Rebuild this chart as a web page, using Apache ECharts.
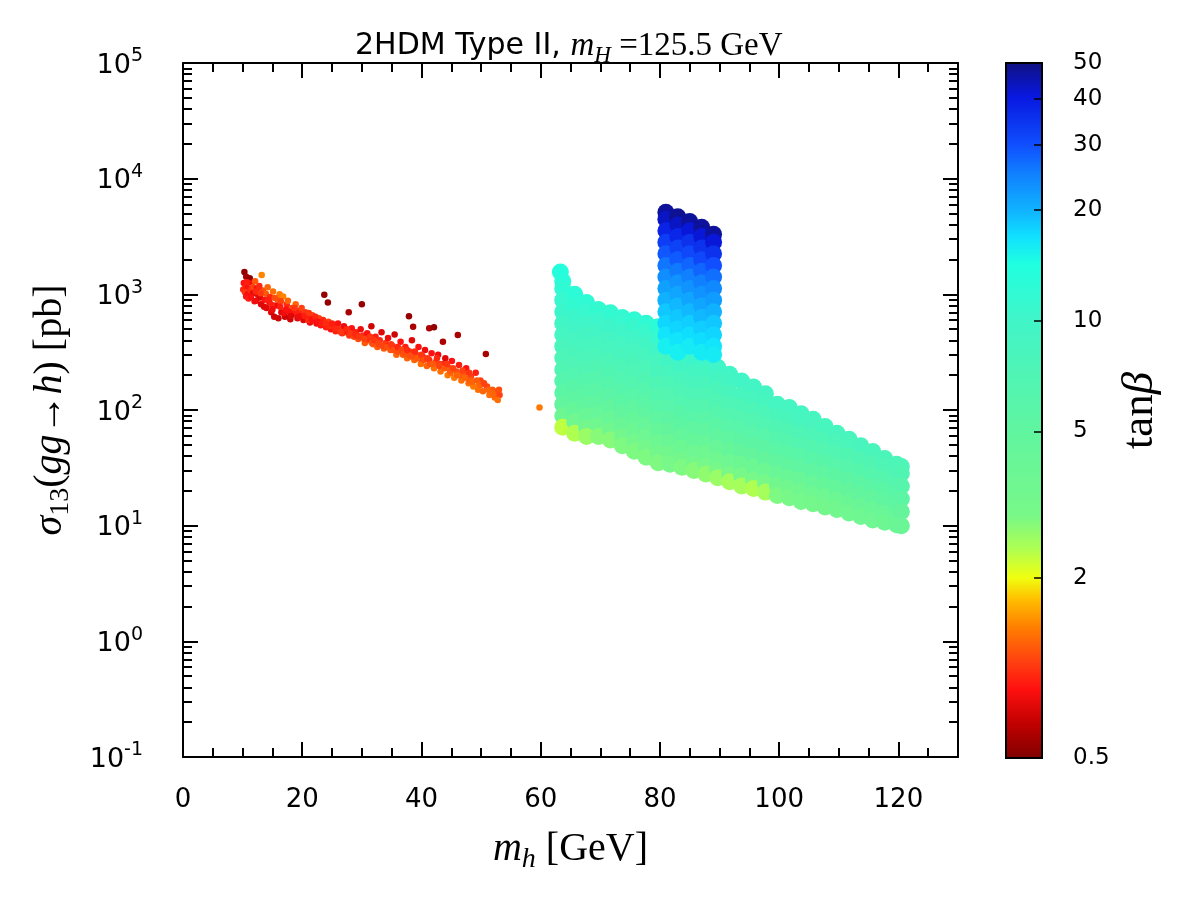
<!DOCTYPE html>
<html>
<head>
<meta charset="utf-8">
<title>2HDM Type II scan</title>
<script src="https://cdn.jsdelivr.net/npm/echarts@6/dist/echarts.min.js"></script>
<style>
  html, body { margin: 0; padding: 0; background: #fff; }
  #chart { width: 1200px; height: 900px; }
</style>
</head>
<body>
<div id="chart"></div>
<script>
// ---- data: [m_h (GeV), sigma13 (pb), tan beta] ----
const lowBand = [
  [10.3,1560,0.7],[10.6,1420,0.75],[11.2,1380,0.7],[10.2,1250,1.0],[10.5,1180,1.05],[10.1,1100,1.1],[10.8,1130,1.0],[10.4,1040,1.15],
  [10.9,1000,0.95],[10.6,960,1.0],[11.5,1250,0.95],[11.3,1080,1.1],[11.7,1160,1.2],[11.0,920,1.05],[11.8,1020,0.9],[12.1,1300,1.3],
  [12.4,1130,1.0],[12.6,980,0.95],[12.3,880,1.0],[12.9,940,0.9],[13.2,1470,1.5],[13.4,1080,1.25],[13.1,820,0.9],[13.7,900,1.0],
  [13.9,1010,1.3],[14.2,1150,1.35],[14.0,760,0.9],[14.5,850,1.0],[14.8,700,0.9],[14.6,950,1.1],[15.1,1060,1.4],[15.3,640,0.85],
  [15.6,800,0.95],[15.9,900,1.3],[16.2,1000,1.45],[16.0,620,0.85],[16.5,700,0.9],[16.8,960,1.5],[17.1,640,0.85],[17.4,820,1.1],
  [17.6,880,1.35],[18.0,610,0.85],[18.3,760,1.2],[18.6,680,0.95],[18.9,820,1.35],[19.2,620,0.9],[19.5,720,1.1],[19.8,650,1.0],
  [20.2,600,0.9],[20.5,700,1.15],[20.9,640,1.0],[21.3,570,0.95],[21.7,660,1.2],[22.0,600,1.05],[22.4,560,0.95],[22.8,620,1.2],
  [23.1,540,1.0],[23.5,600,1.1],[23.7,990,0.7],[24.3,850,0.7],[24.0,520,1.05],[24.4,580,1.2],[24.8,500,1.0],[25.2,540,1.15],
  [25.6,480,1.05],[26.0,560,1.0],[26.3,500,1.2],[26.7,460,1.1],[27.0,530,0.95],[27.4,470,1.2],[27.8,700,0.75],[27.9,440,1.15],
  [28.3,510,1.0],[28.7,430,1.2],[29.0,470,1.05],[29.4,410,1.25],[29.8,500,0.95],[30.0,820,0.7],[30.2,440,1.1],[30.5,380,1.3],
  [30.9,460,1.0],[31.2,400,1.2],[31.6,530,0.85],[31.9,370,1.3],[32.3,430,1.05],[32.6,350,1.3],[33.0,400,1.1],[33.3,470,0.9],
  [33.7,340,1.3],[34.0,380,1.15],[34.4,420,0.95],[34.8,330,1.3],[35.1,360,1.1],[35.5,450,0.85],[35.8,300,1.35],[36.2,340,1.15],
  [36.5,390,1.0],[36.9,300,1.3],[37.3,350,1.05],[37.6,280,1.35],[37.9,645,0.7],[38.0,320,1.15],[38.4,400,0.9],[38.6,525,0.75],
  [38.8,270,1.35],[39.1,300,1.2],[39.5,350,1.0],[39.9,250,1.4],[40.2,290,1.1],[40.6,330,0.95],[40.9,240,1.35],[41.3,510,0.75],
  [41.3,270,1.1],[41.7,310,1.0],[42.1,520,0.7],[42.1,230,1.4],[42.4,260,1.2],[42.8,300,0.95],[43.2,215,1.4],[43.6,390,0.75],
  [43.6,250,1.1],[44.0,280,0.9],[44.4,200,1.45],[44.7,230,1.2],[45.1,265,1.0],[45.5,190,1.45],[45.9,215,1.25],[46.1,445,0.75],
  [46.3,245,1.05],[46.7,180,1.4],[47.1,205,1.25],[47.5,230,1.0],[47.9,170,1.4],[48.3,195,1.2],[48.7,160,1.45],[49.1,210,1.05],
  [49.5,150,1.4],[49.9,180,1.2],[50.3,145,1.35],[50.8,305,0.75],[51.0,160,1.2],[51.4,135,1.4],[51.9,150,1.3],[52.3,128,1.35],
  [52.7,145,1.25],[53.1,135,1.2],[52.8,122,1.4],[59.8,105,1.45],
  [12.8,1180,1.1],[14.9,810,1.05],[16.4,870,1.2],[17.9,700,1.0],[19.0,700,1.05],[21.0,600,1.1],[23.0,575,1.05],[25.5,510,1.1],
  [27.2,480,1.05],[29.2,440,1.1],[31.0,420,1.1],[32.9,370,1.2],[34.6,360,1.05],[36.0,320,1.25],[37.8,300,1.25],[39.7,280,1.15],
  [41.5,250,1.25],[43.0,240,1.2],[44.9,210,1.35],[46.5,200,1.3],[48.1,180,1.3],[50.0,165,1.25],
  [10.7,1270,1.05],[11.4,950,1.0],[12.0,870,0.95],[12.2,1060,1.1],[13.0,1020,1.15],[13.6,780,0.9],[14.3,900,1.05],[15.0,740,0.95],
  [15.4,930,1.25],[16.3,780,1.05],[16.9,690,0.95],[17.3,740,1.0],[18.1,650,0.9],[18.7,760,1.15],[19.4,640,0.95],[19.9,760,1.2],
  [20.4,650,1.05],[21.1,690,1.15],[21.6,610,1.0],[22.2,640,1.1],[22.6,580,1.0],[23.3,560,1.05],[23.9,560,1.1],[24.6,530,1.1],
  [25.0,560,1.05],[25.9,500,1.1],[26.5,470,1.15],[27.5,500,1.1],[28.1,460,1.15],[28.9,450,1.1],[29.6,430,1.15],[30.4,410,1.2],
  [31.4,430,1.15],[31.7,380,1.25],[32.1,400,1.15],[32.8,380,1.2],[33.5,360,1.2],[34.2,350,1.25],[34.9,370,1.15],[35.3,330,1.25],
  [36.0,350,1.1],[36.7,330,1.2],[37.1,310,1.25],[37.6,330,1.1],[38.3,290,1.25],[38.9,320,1.1],[39.3,280,1.3],[40.0,300,1.15],
  [40.4,270,1.25],[41.0,280,1.15],[41.9,250,1.3],[42.6,280,1.1],[43.0,250,1.2],[43.9,230,1.3],[44.3,250,1.15],[44.8,220,1.3],
  [45.3,230,1.2],[46.0,200,1.35],[46.9,220,1.2],[47.3,190,1.35],[48.0,210,1.15],[48.5,175,1.35],[49.3,180,1.3],[49.7,165,1.35],
  [50.5,170,1.2],[51.2,150,1.35],[52.0,140,1.35],[53.0,150,1.25]
];

const wideBand = [
  [63.3,1560,13.5],[63.7,1300,13],[63.7,1122,12],[63.7,891,11],[63.7,708,10.5],[63.7,562,9.5],[63.7,447,9],[63.7,355,8.2],
  [63.7,282,7.6],[63.7,224,7],[63.7,178,6.3],[63.7,141,5.6],[63.7,112,4.8],[63.7,89,3.8],[63.7,71,2.3],
  [65.7,1000,12.5],[65.7,794,11.5],[65.7,631,10.5],[65.7,501,9.6],[65.7,398,8.8],[65.7,316,8],[65.7,251,7.3],[65.7,200,6.6],
  [65.7,158,5.9],[65.7,126,5.2],[65.7,100,4.4],[65.7,79,3.5],[65.7,63,2.4],
  [67.7,851,12],[67.7,708,11],[67.7,562,10],[67.7,447,9.2],[67.7,355,8.4],[67.7,282,7.7],[67.7,224,7],[67.7,178,6.3],
  [67.7,141,5.6],[67.7,112,4.9],[67.7,89,4.1],[67.7,71,3.3],[67.7,59,2.6],
  [69.7,741,11.5],[69.7,589,10.4],[69.7,468,9.4],[69.7,372,8.6],[69.7,295,7.8],[69.7,234,7.1],[69.7,186,6.4],[69.7,148,5.7],
  [69.7,117,5],[69.7,93,4.3],[69.7,74,3.5],[69.7,59,2.8],
  [71.7,692,11.5],[71.7,525,10.2],[71.7,417,9.2],[71.7,331,8.4],[71.7,263,7.6],[71.7,209,6.9],[71.7,166,6.2],[71.7,132,5.5],
  [71.7,105,4.8],[71.7,83,4.1],[71.7,66,3.4],[71.7,55,2.8],
  [73.7,631,11.5],[73.7,589,11],[73.7,468,10],[73.7,372,9],[73.7,295,8.2],[73.7,234,7.5],[73.7,186,6.8],[73.7,148,6.1],
  [73.7,117,5.4],[73.7,93,4.7],[73.7,74,4],[73.7,59,3.3],[73.7,49,2.9],
  [75.7,603,12],[75.7,525,10.8],[75.7,417,9.6],[75.7,331,8.7],[75.7,263,7.9],[75.7,209,7.2],[75.7,166,6.5],[75.7,132,5.8],
  [75.7,105,5.1],[75.7,83,4.4],[75.7,66,3.8],[75.7,52,3.2],[75.7,44,2.9],
  [77.7,562,12],[77.7,468,10.6],[77.7,372,9.5],[77.7,295,8.6],[77.7,234,7.8],[77.7,186,7.1],[77.7,148,6.4],[77.7,117,5.7],
  [77.7,93,5],[77.7,74,4.3],[77.7,59,3.7],[77.7,47,3.2],[77.7,39,2.9],
  [79.7,525,12.5],[79.7,417,11],[79.7,331,9.8],[79.7,263,8.8],[79.7,209,8],[79.7,166,7.2],[79.7,132,6.5],[79.7,105,5.8],
  [79.7,83,5.1],[79.7,66,4.4],[79.7,52,3.8],[79.7,42,3.3],[79.7,35,2.9],
  [81.7,331,11],[81.7,263,9.5],[81.7,209,8.4],[81.7,166,7.5],[81.7,132,6.7],[81.7,105,6],[81.7,83,5.3],[81.7,66,4.6],
  [81.7,52,3.9],[81.7,42,3.4],[81.7,34,3],
  [83.7,295,10.8],[83.7,234,9.4],[83.7,186,8.3],[83.7,148,7.4],[83.7,117,6.6],[83.7,93,5.9],[83.7,74,5.2],[83.7,59,4.5],
  [83.7,47,3.8],[83.7,37,3.3],[83.7,32,2.9],
  [85.7,269,10.5],[85.7,214,9.2],[85.7,170,8.2],[85.7,135,7.3],[85.7,107,6.5],[85.7,85,5.8],[85.7,68,5.1],[85.7,54,4.4],
  [85.7,43,3.7],[85.7,34,3.2],[85.7,30,2.8],
  [87.7,263,10.3],[87.7,209,9.1],[87.7,166,8.1],[87.7,132,7.2],[87.7,105,6.4],[87.7,83,5.7],[87.7,66,5],[87.7,52,4.3],
  [87.7,42,3.6],[87.7,33,3.1],[87.7,28,2.7],
  [89.7,234,10],[89.7,186,8.9],[89.7,148,7.9],[89.7,117,7.1],[89.7,93,6.3],[89.7,74,5.6],[89.7,59,4.9],[89.7,47,4.2],
  [89.7,37,3.5],[89.7,30,3],[89.7,26,2.6],
  [91.7,204,9.8],[91.7,178,9.2],[91.7,141,8.2],[91.7,112,7.3],[91.7,89,6.5],[91.7,71,5.8],[91.7,56,5.1],[91.7,45,4.4],
  [91.7,35,3.7],[91.7,28,3],[91.7,24,2.5],
  [93.7,178,9.6],[93.7,135,8.4],[93.7,107,7.5],[93.7,85,6.7],[93.7,68,6],[93.7,54,5.3],[93.7,43,4.6],[93.7,34,3.8],
  [93.7,27,3],[93.7,22,2.5],
  [95.7,158,9.4],[95.7,126,8.4],[95.7,100,7.5],[95.7,79,6.7],[95.7,63,6],[95.7,50,5.3],[95.7,40,4.6],[95.7,32,3.8],
  [95.7,25,3],[95.7,21,2.4],
  [97.7,138,9.2],[97.7,117,8.6],[97.7,93,7.6],[97.7,74,6.8],[97.7,59,6],[97.7,47,5.3],[97.7,37,4.6],[97.7,29.5,3.8],
  [97.7,23.4,3],[97.7,19.5,2.5],
  [99.7,112,9],[99.7,89,8],[99.7,71,7.1],[99.7,56,6.3],[99.7,44.7,5.6],[99.7,35.5,4.9],[99.7,28.2,4.1],[99.7,22.4,3.4],[99.7,18.2,2.9],
  [101.7,105,9],[101.7,83,8],[101.7,66,7.1],[101.7,52.5,6.3],[101.7,41.7,5.6],[101.7,33,4.9],[101.7,26.3,4.1],[101.7,21,3.4],[101.7,17.4,3],
  [103.7,93,9],[103.7,79,8.4],[103.7,63,7.4],[103.7,50,6.6],[103.7,39.8,5.8],[103.7,31.6,5],[103.7,25,4.2],[103.7,20,3.5],[103.7,16.2,3.1],
  [105.7,83,8.8],[105.7,74,8.3],[105.7,59,7.3],[105.7,47,6.5],[105.7,37,5.8],[105.7,29.5,5],[105.7,23.4,4.3],[105.7,18.6,3.6],[105.7,15.5,3.2],
  [107.7,72,8.6],[107.7,56,7.5],[107.7,44.7,6.7],[107.7,35.5,5.9],[107.7,28.2,5.1],[107.7,22.4,4.4],[107.7,17.8,3.7],[107.7,14.5,3.3],
  [109.7,63,8.4],[109.7,52.5,7.6],[109.7,41.7,6.8],[109.7,33,6],[109.7,26.3,5.2],[109.7,21,4.5],[109.7,16.6,3.8],[109.7,13.8,3.4],
  [111.7,56,8.3],[111.7,50,7.8],[111.7,39.8,6.9],[111.7,31.6,6.1],[111.7,25,5.3],[111.7,20,4.6],[111.7,15.8,3.9],[111.7,12.9,3.5],
  [113.7,49,8.2],[113.7,37,7],[113.7,29.5,6.2],[113.7,23.4,5.4],[113.7,18.6,4.7],[113.7,14.8,4],[113.7,12,3.6],
  [115.7,43.7,8],[115.7,34.7,7.1],[115.7,27.5,6.3],[115.7,21.9,5.5],[115.7,17.4,4.8],[115.7,13.8,4.1],[115.7,11.2,3.7],
  [117.7,38,7.9],[117.7,32.4,7.2],[117.7,25.7,6.4],[117.7,20.4,5.6],[117.7,16.2,4.9],[117.7,12.9,4.2],[117.7,10.7,3.8],
  [119.7,33.9,7.8],[119.7,30.2,7.3],[119.7,24,6.5],[119.7,19.1,5.7],[119.7,15.1,5],[119.7,12,4.3],[119.7,10.2,3.9],
  [120.5,32.4,7.6],[120.5,28.2,7],[120.5,21.9,6.1],[120.5,17,5.4],[120.5,13.2,4.6],[120.5,10,4]
];

const column = [
  [81,5130,47],[81,4467,43],[81,3548,38],[81,2818,33],[81,2239,29],[81,1778,26],[81,1413,23.5],[81,1122,21.5],
  [81,891,20],[81,708,18.5],[81,562,17.5],[81,447,16.5],[81,355,15.5],
  [83,4677,48],[83,3981,43],[83,3162,37],[83,2512,32],[83,1995,28.5],[83,1585,25.5],[83,1259,23],[83,1000,21],
  [83,794,19.5],[83,631,18.5],[83,501,17.5],[83,398,16.5],[83,316,15.5],
  [85,4266,47],[85,3548,41],[85,2818,35],[85,2239,31],[85,1778,27.5],[85,1413,25],[85,1122,23],[85,891,21],
  [85,708,19.5],[85,562,18],[85,447,17],[85,355,16],
  [87,3802,47],[87,3162,41],[87,2512,35],[87,1995,31],[87,1585,27.5],[87,1259,25],[87,1000,23],[87,794,21],
  [87,631,19.5],[87,501,18],[87,398,17],[87,316,16],
  [89,3311,47],[89,2818,41],[89,2239,35],[89,1778,30],[89,1413,26.5],[89,1122,24],[89,891,22],[89,708,20],
  [89,562,18.5],[89,447,17.5],[89,355,16.5],[89,302,16]
];

// ---- ticks and labels ----
const xMajorTicks = [0, 20, 40, 60, 80, 100, 120];
const xMinorTicks = [5, 10, 15, 25, 30, 35, 45, 50, 55, 65, 70, 75, 85, 90, 95, 105, 110, 115, 125];
const yDecades = [0.1, 1, 10, 100, 1000, 10000];
const cbTicks = [0.65, 2, 5, 10, 20, 30, 40, 50];
const cbLabels = ['0.5', '2', '5', '10', '20', '30', '40', '50'];

// minor ticks of the log axis, in log10 units
const yMinorLog = [];
yDecades.forEach(d => { for (let k = 2; k <= 9; k++) yMinorLog.push(Math.log10(d * k)); });

// colour map (bottom -> top of the colour bar)
const cmapStops = [
  [0.00, '#7f0000'], [0.05, '#c00000'], [0.10, '#ff1010'], [0.14, '#ff4010'], [0.19, '#ff8000'],
  [0.23, '#ffc000'], [0.26, '#f0ff10'], [0.30, '#b0ff50'], [0.35, '#78f888'], [0.47, '#60f5a0'],
  [0.63, '#40f5c8'], [0.71, '#20ffe0'], [0.75, '#10e0ff'], [0.79, '#10b0ff'], [0.84, '#1080ff'],
  [0.88, '#1050ff'], [0.95, '#0818e0'], [1.00, '#101080']
];
const CB_MIN = Math.log10(cbTicks[0]);
const CB_MAX = Math.log10(cbTicks[cbTicks.length - 1]);

function hexRgb (h) {
  return [1, 3, 5].map(i => parseInt(h.slice(i, i + 2), 16));
}
function tanbColor (t) {
  let p = (Math.log10(t) - CB_MIN) / (CB_MAX - CB_MIN);
  p = Math.max(0, Math.min(1, p));
  for (let i = 1; i < cmapStops.length; i++) {
    if (p <= cmapStops[i][0]) {
      const [p0, c0] = cmapStops[i - 1];
      const [p1, c1] = cmapStops[i];
      const f = (p - p0) / (p1 - p0);
      const a = hexRgb(c0), b = hexRgb(c1);
      return 'rgb(' + a.map((v, k) => Math.round(v + (b[k] - v) * f)).join(',') + ')';
    }
  }
  return cmapStops[cmapStops.length - 1][1];
}

const SANS = "'DejaVu Sans', sans-serif";
const SERIF = "'Liberation Serif', 'DejaVu Serif', serif";
const BLACK = '#000';

function mathRich (size, sansSize) {
  const base = { color: BLACK, fontWeight: 'normal' };
  return {
    i: Object.assign({ fontFamily: SERIF, fontStyle: 'italic', fontSize: size, lineHeight: size * 1.25 }, base),
    r: Object.assign({ fontFamily: SERIF, fontSize: size, lineHeight: size * 1.25 }, base),
    sub: Object.assign({ fontFamily: SERIF, fontStyle: 'italic', fontSize: size * 0.7, lineHeight: size * 0.5, verticalAlign: 'bottom' }, base),
    subr: Object.assign({ fontFamily: SERIF, fontSize: size * 0.7, lineHeight: size * 0.5, verticalAlign: 'bottom' }, base),
    s: Object.assign({ fontFamily: SANS, fontSize: sansSize || size, lineHeight: size * 1.25 }, base)
  };
}

const frameLine = { show: true, onZero: false, lineStyle: { color: BLACK, width: 2 } };
const noLine = { show: false, onZero: false };

function xAxisOf (position, ticks, len, extra) {
  return Object.assign({
    gridIndex: 0, type: 'value', min: 0, max: 130, position,
    axisLine: frameLine,
    axisTick: { inside: true, length: len, customValues: ticks, lineStyle: { color: BLACK, width: 2 } },
    axisLabel: { show: false },
    splitLine: { show: false }
  }, extra || {});
}

function yAxisOf (type, position, len, extra) {
  const ax = {
    gridIndex: 0, type, position,
    axisLine: frameLine,
    axisTick: { inside: true, length: len, lineStyle: { color: BLACK, width: 2 } },
    axisLabel: { show: false },
    splitLine: { show: false }
  };
  if (type === 'log') {
    Object.assign(ax, { logBase: 10, min: 0.1, max: 100000 });
  } else {
    // minor ticks, drawn in log10 units over the same span
    Object.assign(ax, { min: -1, max: 5, axisLine: noLine });
    ax.axisTick.customValues = yMinorLog;
  }
  return Object.assign(ax, extra || {});
}

const chart = echarts.init(document.getElementById('chart'));

const option = {
  animation: false,
  backgroundColor: '#fff',
  title: {
    text: '{s|2HDM Type II, }{i|m}{sub|H}{r| =125.5 GeV}',
    left: 350,
    top: 21,
    textStyle: { fontWeight: 'normal', rich: mathRich(33, 30) }
  },
  grid: [
    { left: 183, top: 63, width: 775, height: 694 },
    { left: 1006, top: 63, width: 36, height: 695 }
  ],
  xAxis: [
    xAxisOf('bottom', xMajorTicks, 15, {
      axisLabel: { customValues: xMajorTicks, fontFamily: SANS, fontSize: 26, color: BLACK, margin: 30 },
      name: '{i|m}{sub|h}{r| [GeV]}',
      nameLocation: 'middle',
      nameGap: 67,
      nameTextStyle: { rich: mathRich(40) }
    }),
    xAxisOf('bottom', xMinorTicks, 9, { axisLine: noLine }),
    xAxisOf('top', xMajorTicks, 15),
    xAxisOf('top', xMinorTicks, 9, { axisLine: noLine }),
    { gridIndex: 1, type: 'value', min: 0, max: 1, show: false }
  ],
  yAxis: [
    yAxisOf('log', 'left', 15, {
      axisLabel: {
        margin: 40,
        formatter: v => '{b|10}{e|' + Math.round(Math.log10(v)) + '}',
        rich: {
          b: { fontFamily: SANS, fontSize: 27, color: BLACK, lineHeight: 32, verticalAlign: 'bottom' },
          e: { fontFamily: SANS, fontSize: 19, color: BLACK, lineHeight: 18, verticalAlign: 'top' }
        }
      },
      name: '{i|σ}{subr|13}{r|(}{i|gg}{r|→}{i|h}{r|) [pb]}',
      nameLocation: 'middle',
      nameRotate: 90,
      nameGap: 108,
      nameTextStyle: { rich: mathRich(40) }
    }),
    yAxisOf('value', 'left', 9),
    yAxisOf('log', 'right', 15),
    yAxisOf('value', 'right', 9),
    {
      gridIndex: 1, type: 'value', min: CB_MIN, max: CB_MAX, position: 'right', z: 10,
      axisLine: noLine,
      splitLine: { show: false },
      axisTick: { inside: true, length: 8, customValues: cbTicks.slice(1, -1).map(Math.log10), lineStyle: { color: BLACK, width: 1.5 } },
      axisLabel: {
        customValues: cbTicks.map(Math.log10),
        margin: 31,
        fontFamily: SANS, fontSize: 23, color: BLACK,
        formatter: v => {
          const i = cbTicks.findIndex(t => Math.abs(Math.log10(t) - v) < 1e-6);
          return i < 0 ? '' : cbLabels[i];
        }
      },
      name: '{r|tan}{i|β}',
      nameLocation: 'middle',
      nameRotate: 90,
      nameGap: 70,
      nameTextStyle: { rich: mathRich(45) }
    }
  ],
  series: [
    {
      name: 'light h', type: 'scatter', xAxisIndex: 0, yAxisIndex: 0,
      symbolSize: 6.5, data: lowBand, silent: true,
      itemStyle: { color: p => tanbColor(p.value[2]), opacity: 1 }
    },
    {
      name: 'wide band', type: 'scatter', xAxisIndex: 0, yAxisIndex: 0,
      symbolSize: 17, data: wideBand, silent: true,
      itemStyle: { color: p => tanbColor(p.value[2]), opacity: 1 }
    },
    {
      name: 'column', type: 'scatter', xAxisIndex: 0, yAxisIndex: 0,
      symbolSize: 17, data: column, silent: true,
      itemStyle: { color: p => tanbColor(p.value[2]), opacity: 1 }
    },
    {
      // colour bar
      type: 'custom', xAxisIndex: 4, yAxisIndex: 4, silent: true, z: 1,
      data: [[0, CB_MIN]],
      renderItem: (params, api) => {
        const lo = api.coord([0, CB_MIN]);
        const hi = api.coord([1, CB_MAX]);
        return {
          type: 'rect',
          shape: { x: lo[0], y: hi[1], width: hi[0] - lo[0], height: lo[1] - hi[1] },
          style: {
            fill: new echarts.graphic.LinearGradient(0, 1, 0, 0,
              cmapStops.map(([o, c]) => ({ offset: o, color: c }))),
            stroke: BLACK,
            lineWidth: 2
          }
        };
      }
    }
  ]
};

chart.setOption(option);
</script>
</body>
</html>
